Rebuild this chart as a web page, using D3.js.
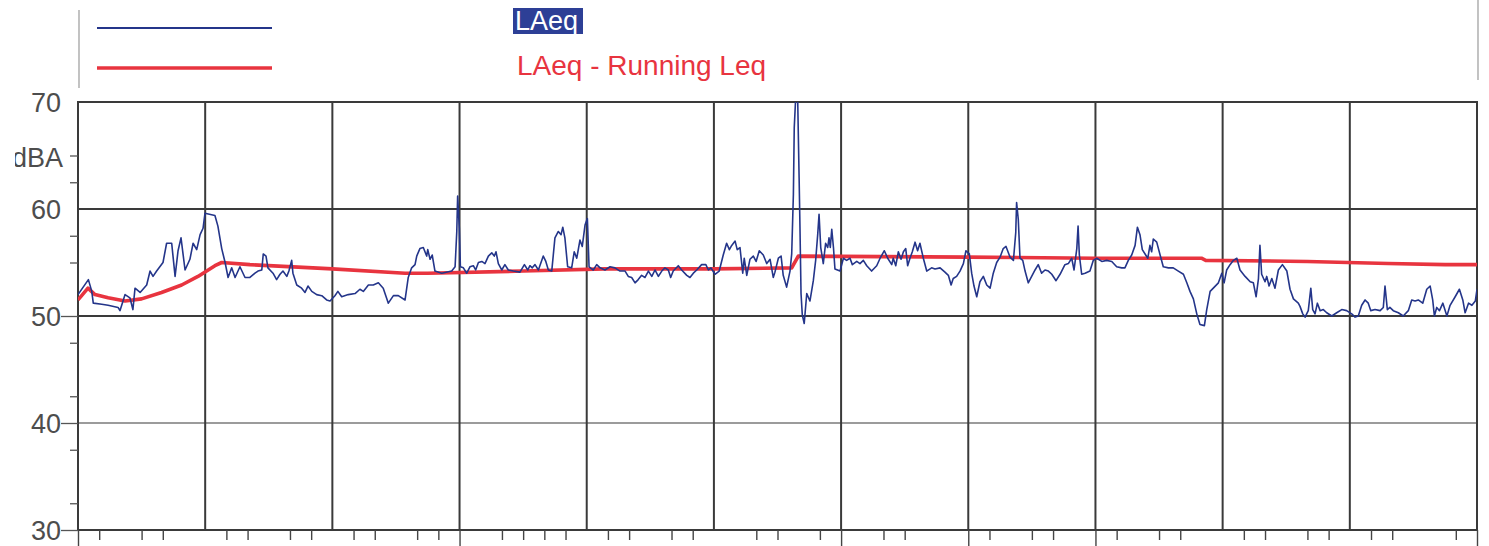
<!DOCTYPE html>
<html>
<head>
<meta charset="utf-8">
<script src="https://cdn.jsdelivr.net/npm/d3@7"></script>
<style>
  body { margin: 0; background: #fff; }
  svg { display: block; }
  text { font-family: "Liberation Sans", Arial, sans-serif; }
</style>
</head>
<body>
<svg id="chart" width="1489" height="546"></svg>
<script>
// Level axis (dBA)
const yTickValues = [30, 40, 50, 60, 70];
const yMinorTicks = [32.5, 37.5, 42.5, 47.5, 55, 57.5, 62.5, 65];
const yLongTicks = [30, 40, 50];

// Time axis (minutes from start of measurement)
const xMajorTicks = [0, 60, 120, 180, 240, 300, 360, 420, 480, 540, 600, 660];
const xLongTicks = [0, 180, 360, 420, 480, 660];
const xMinorTicks = [10, 30, 40, 70, 80, 100, 110, 130, 140, 160, 170, 200, 210, 220, 230,
  250, 260, 280, 290, 320, 330, 350, 380, 390, 430, 450, 460, 490, 510, 520,
  550, 560, 580, 590, 610, 620, 650];

const seriesNames = ["LAeq", "LAeq - Running Leq"];

// Short-interval LAeq, [minute, dBA]
const laeq = [
  [0.0,52.0],[4.9,53.4],[6.5,52.3],[7.2,51.2],[11.2,51.1],[14.2,51.0],[18.9,50.8],[19.8,50.5],
  [22.2,52.0],[24.5,51.7],[25.9,50.6],[26.9,52.6],[29.3,52.2],[32.4,52.9],[34.0,54.2],[35.4,53.7],
  [37.1,54.2],[40.1,55.0],[41.8,56.8],[44.2,56.8],[45.8,53.7],[47.2,56.1],[48.6,57.3],[50.5,54.3],
  [52.8,55.3],[54.3,56.8],[56.0,56.2],[57.6,57.6],[59.0,58.2],[59.9,59.6],[64.6,59.4],[66.0,58.4],
  [67.8,56.3],[69.4,55.0],[70.8,53.6],[72.5,54.5],[74.1,53.6],[76.4,54.6],[78.8,53.6],
  [81.1,53.6],[83.5,54.0],[84.9,54.2],[86.7,54.3],[87.4,55.8],[88.7,55.6],[89.6,54.5],[92.0,54.0],
  [93.7,53.4],[95.3,53.9],[96.7,54.2],[98.5,53.7],[99.5,54.2],[100.8,55.2],[101.4,54.0],[103.2,52.9],
  [105.5,52.6],[107.1,52.2],[108.5,52.8],[110.3,52.3],[112.6,52.0],[115.0,51.9],[117.3,51.5],
  [118.9,51.4],[121.2,51.9],[122.6,52.3],[124.4,51.8],[127.5,52.0],[130.7,52.1],[133.0,52.5],
  [134.6,52.3],[137.0,52.9],[139.3,52.9],[141.7,53.1],[144.0,52.6],[146.4,51.2],[148.8,51.9],
  [151.1,51.9],[154.3,51.5],[155.8,53.6],[157.4,54.5],[159.0,54.8],[159.8,55.6],[161.3,56.3],
  [162.9,56.4],[164.5,55.6],[165.0,56.2],[166.1,55.3],[167.1,55.7],[168.4,54.2],[171.6,54.0],
  [176.3,54.2],[177.9,54.6],[178.7,57.9],[179.1,61.2],[179.9,58.2],[180.4,54.6],[181.8,54.5],
  [183.4,54.0],[184.9,54.6],[186.5,54.7],[187.6,54.3],[188.9,55.0],[190.5,55.1],[192.0,54.9],
  [193.6,55.6],[195.2,55.9],[196.4,55.6],[197.2,56.0],[198.3,54.9],[199.9,54.3],[201.4,54.8],
  [203.0,54.3],[205.4,54.2],[208.5,54.1],[210.6,54.8],[212.2,54.3],[213.2,54.7],[214.3,54.5],
  [215.6,54.8],[217.2,54.3],[219.5,55.6],[220.7,55.1],[221.9,54.3],[223.5,54.2],[225.0,57.3],
  [226.6,57.9],[227.9,57.6],[228.7,58.3],[229.7,57.3],[231.0,54.6],[232.9,54.5],[234.1,56.0],
  [235.3,55.4],[236.8,57.1],[237.9,56.5],[239.2,58.5],[240.3,59.1],[241.1,54.6],[243.1,54.3],
  [244.7,54.8],[246.3,54.5],[248.6,54.3],[251.0,54.6],[253.3,54.5],[255.7,54.2],[258.1,54.2],
  [259.6,53.7],[261.2,53.6],[262.8,53.1],[264.3,53.4],[265.9,53.8],[267.5,53.6],[269.1,54.2],
  [270.7,53.7],[272.2,54.3],[273.8,53.7],[275.4,54.2],[276.9,54.5],[278.5,54.3],[279.6,53.6],
  [280.8,54.2],[283.2,54.7],[284.8,54.3],[287.2,53.8],[288.7,53.6],[290.3,54.0],[291.9,54.3],
  [294.2,54.8],[296.2,54.8],[297.4,54.3],[298.6,54.5],[300.5,53.9],[302.5,54.2],[304.4,55.7],
  [306.0,56.8],[307.3,56.2],[308.4,56.6],[310.0,57.0],[311.0,56.2],[312.3,56.4],[313.6,54.0],
  [314.3,55.4],[315.5,53.8],[317.0,55.3],[318.6,55.6],[319.9,55.1],[321.4,56.1],[323.3,55.7],
  [324.9,54.9],[326.5,55.3],[328.0,53.6],[328.8,54.1],[330.4,55.4],[331.7,55.6],[332.7,53.8],
  [334.3,52.7],[335.9,54.2],[336.7,55.8],[337.5,61.4],[337.9,67.6],[338.6,70.5],[339.5,70.5],
  [340.2,62.9],[340.6,58.3],[341.1,52.1],[341.7,50.1],[342.6,49.3],[343.8,52.1],[345.3,51.4],
  [346.9,53.3],[348.0,55.2],[349.0,57.7],[349.6,59.5],[350.4,56.4],[351.6,54.9],[352.7,56.8],
  [353.7,56.4],[354.3,57.3],[354.9,56.4],[355.6,58.1],[356.4,56.4],[357.1,54.4],[359.5,54.2],
  [361.1,55.4],[362.6,55.2],[364.2,55.4],[365.3,54.8],[367.4,55.1],[368.9,54.9],[370.5,55.2],
  [372.1,54.7],[374.4,54.2],[376.8,54.7],[378.4,55.4],[380.4,56.1],[382.0,55.4],[383.9,54.8],
  [384.6,55.4],[385.8,54.7],[387.0,56.0],[388.3,55.3],[389.4,56.0],[390.5,56.3],[391.4,54.7],
  [392.5,55.4],[393.6,56.0],[394.9,56.9],[396.1,56.1],[397.2,56.8],[398.8,55.4],[400.4,54.2],
  [402.7,54.5],[404.3,54.4],[406.7,54.5],[409.0,54.1],[410.6,53.8],[411.9,52.9],[412.9,53.5],
  [414.5,53.7],[416.1,54.2],[417.7,54.9],[418.9,56.1],[420.5,55.8],[421.6,54.0],[422.7,52.8],
  [424.0,51.8],[425.5,53.2],[427.1,53.7],[428.7,52.9],[430.3,52.6],[431.8,54.0],[433.4,55.0],
  [435.0,55.5],[436.5,56.3],[437.8,56.5],[439.7,55.5],[441.3,55.2],[442.4,57.8],[442.8,60.6],
  [443.6,59.0],[444.4,55.4],[445.7,55.2],[446.8,54.2],[448.3,53.1],[449.9,53.7],[451.5,54.3],
  [453.0,54.8],[454.6,54.0],[456.2,54.3],[457.8,54.2],[459.4,53.9],[461.4,53.3],[463.3,53.9],
  [465.6,54.8],[467.2,54.9],[468.8,55.4],[469.9,54.3],[471.2,56.3],[471.8,58.4],[472.4,55.7],
  [473.5,53.9],[475.1,54.0],[477.4,54.2],[479.0,55.2],[480.6,55.4],[483.0,55.1],[485.3,55.2],
  [487.7,55.1],[490.0,54.6],[492.4,54.5],[493.9,54.5],[495.5,55.2],[497.1,55.7],[498.7,56.6],
  [499.8,58.3],[501.0,57.6],[502.1,56.2],[503.7,55.7],[504.7,55.4],[505.7,56.6],[506.5,56.0],
  [507.3,57.2],[508.9,56.9],[510.5,55.7],[512.0,54.6],[514.4,54.5],[516.7,54.5],[519.1,54.2],
  [521.5,53.9],[523.1,53.1],[524.6,52.3],[526.2,51.6],[527.8,50.2],[529.3,49.2],[531.4,49.1],
  [532.5,50.6],[534.1,52.3],[535.6,52.6],[538.0,53.1],[539.6,54.0],[540.7,53.1],[541.9,54.3],
  [543.5,54.8],[545.1,55.2],[546.7,55.4],[548.2,54.3],[550.6,53.7],[553.0,53.2],[554.5,53.1],
  [555.8,51.8],[556.9,53.5],[557.6,56.6],[558.4,53.9],[560.0,53.2],[560.8,53.7],[561.9,52.8],
  [563.2,53.5],[564.7,52.6],[566.3,54.3],[568.2,54.8],[570.3,54.2],[571.8,52.5],[573.4,51.6],
  [575.7,51.2],[576.5,50.9],[577.8,50.2],[578.9,49.9],[580.4,50.5],[581.6,52.6],[582.5,50.6],
  [583.6,50.2],[584.7,51.2],[586.0,50.5],[587.5,50.6],[589.1,50.3],[591.5,50.0],[593.8,50.3],
  [596.2,50.6],[598.5,50.5],[600.9,50.2],[602.5,49.9],[604.0,50.0],[605.6,51.0],[607.2,51.5],
  [608.7,51.2],[609.9,50.5],[611.9,50.6],[614.3,50.5],[615.8,50.8],[616.6,52.8],[617.7,50.6],
  [618.9,50.8],[620.5,50.5],[622.9,50.3],[625.2,50.0],[627.6,50.5],[629.2,51.5],[630.8,51.4],
  [632.3,51.5],[634.4,51.2],[636.3,52.5],[637.9,52.8],[639.1,51.5],[639.9,50.0],[641.0,50.8],
  [642.3,50.5],[643.9,51.2],[645.8,50.0],[647.3,51.0],[649.7,51.8],[651.7,52.5],[653.3,51.5],
  [654.4,50.3],[656.0,51.2],[657.6,51.0],[659.2,51.4],[660.0,52.5]
];

// Running (cumulative) Leq, [minute, dBA]
const runningLeq = [
  [0,51.5],[4.7,52.6],[8.0,52.0],[14.2,51.7],[22.2,51.4],[30.0,51.6],[39.4,52.2],[48.9,52.9],
  [56.6,53.7],[64.6,54.7],[67.8,55.0],[81.1,54.8],[120,54.4],[154.3,54.0],[165,54.0],[210,54.2],
  [248.6,54.4],[300,54.4],[336.7,54.5],[339.8,55.6],[420,55.5],[480,55.4],[530,55.4],[532,55.2],
  [580,55.1],[618,54.9],[645,54.8],[660,54.8]
];

const svg = d3.select("#chart");
const x = d3.scaleLinear().domain([0, 660]).range([78, 1477]);
const y = d3.scaleLinear().domain([30, 70]).range([530, 102]);

const gridDark = "#3a3a3a";
const labelGray = "#4d4d4d";
const blue = "#24358a";
const red = "#e8343f";

// Legend frame edges
svg.append("line").attr("x1", 79).attr("x2", 79).attr("y1", 10).attr("y2", 88)
  .attr("stroke", "#9a9a9a").attr("stroke-width", 1.2);
svg.append("line").attr("x1", 1478).attr("x2", 1478).attr("y1", 0).attr("y2", 80)
  .attr("stroke", "#9a9a9a").attr("stroke-width", 1.2);

// Legend
const legend = svg.append("g");
legend.append("line").attr("x1", 97).attr("x2", 272).attr("y1", 28).attr("y2", 28)
  .attr("stroke", blue).attr("stroke-width", 2);
legend.append("line").attr("x1", 97).attr("x2", 272).attr("y1", 68).attr("y2", 68)
  .attr("stroke", red).attr("stroke-width", 3.5);
legend.append("rect").attr("x", 513).attr("y", 8).attr("width", 70).attr("height", 26)
  .attr("fill", "#2d3f96");
legend.append("text").attr("x", 515).attr("y", 30).attr("font-size", 27)
  .attr("fill", "#fff").text(seriesNames[0]);
legend.append("text").attr("x", 517).attr("y", 75).attr("font-size", 28)
  .attr("fill", red).text(seriesNames[1]);

// Horizontal grid
const grid = svg.append("g");
[60, 50, 40].forEach(v => {
  grid.append("line").attr("x1", x(0)).attr("x2", x(660)).attr("y1", y(v)).attr("y2", y(v))
    .attr("stroke", v === 40 ? "#7a7a7a" : gridDark).attr("stroke-width", v === 40 ? 1.4 : 2);
});
// Vertical grid
grid.selectAll("line.v").data(xMajorTicks).join("line").attr("class", "v")
  .attr("x1", d => x(d)).attr("x2", d => x(d)).attr("y1", y(70)).attr("y2", y(30))
  .attr("stroke", gridDark).attr("stroke-width", 2);
// Top and bottom frame
[70, 30].forEach(v => {
  grid.append("line").attr("x1", x(0) - 1).attr("x2", x(660) + 1).attr("y1", y(v)).attr("y2", y(v))
    .attr("stroke", gridDark).attr("stroke-width", 2);
});

// Time-axis ticks
const xMinorAxis = d3.axisBottom(x).tickValues(xMinorTicks).tickSize(10).tickFormat("");
const gxm = svg.append("g").attr("transform", `translate(0,${y(30)})`).call(xMinorAxis);
const xLongAxis = d3.axisBottom(x).tickValues(xLongTicks).tickSize(18).tickFormat("");
const gxl = svg.append("g").attr("transform", `translate(0,${y(30)})`).call(xLongAxis);
[gxm, gxl].forEach(g => {
  g.select(".domain").remove();
  g.selectAll("line").attr("stroke", "#444").attr("stroke-width", 1.4);
});

// Level-axis ticks
const yMinorAxis = d3.axisLeft(y).tickValues(yMinorTicks).tickSize(8).tickFormat("");
const gym = svg.append("g").attr("transform", `translate(${x(0)},0)`).call(yMinorAxis);
const yLongAxis = d3.axisLeft(y).tickValues(yLongTicks).tickSize(17).tickFormat("");
const gyl = svg.append("g").attr("transform", `translate(${x(0)},0)`).call(yLongAxis);
[gym, gyl].forEach(g => {
  g.select(".domain").remove();
  g.selectAll("line").attr("stroke", "#555").attr("stroke-width", 1.3);
});

// Level labels
svg.append("g").selectAll("text").data(yTickValues).join("text")
  .attr("x", 61).attr("y", d => y(d)).attr("dy", "0.36em")
  .attr("text-anchor", "end").attr("font-size", 27).attr("fill", labelGray)
  .text(d => d);

// Unit label (left edge trimmed by the page edge)
svg.append("defs").append("clipPath").attr("id", "unitClip")
  .append("rect").attr("x", 15).attr("y", 130).attr("width", 70).attr("height", 50);
svg.append("text").attr("x", 63).attr("y", 157).attr("dy", "0.36em")
  .attr("text-anchor", "end").attr("font-size", 27).attr("fill", labelGray)
  .attr("clip-path", "url(#unitClip)").text("dBA");

// Plot clip
svg.select("defs").append("clipPath").attr("id", "plotClip")
  .append("rect").attr("x", x(0)).attr("y", y(70)).attr("width", x(660) - x(0)).attr("height", y(30) - y(70));

const line = d3.line().x(d => x(d[0])).y(d => y(d[1]));

svg.append("path").datum(runningLeq).attr("d", line)
  .attr("fill", "none").attr("stroke", red).attr("stroke-width", 3.6)
  .attr("stroke-linejoin", "round").attr("clip-path", "url(#plotClip)");

svg.append("path").datum(laeq).attr("d", line)
  .attr("fill", "none").attr("stroke", blue).attr("stroke-width", 1.6)
  .attr("stroke-linejoin", "round").attr("clip-path", "url(#plotClip)");
</script>
</body>
</html>
